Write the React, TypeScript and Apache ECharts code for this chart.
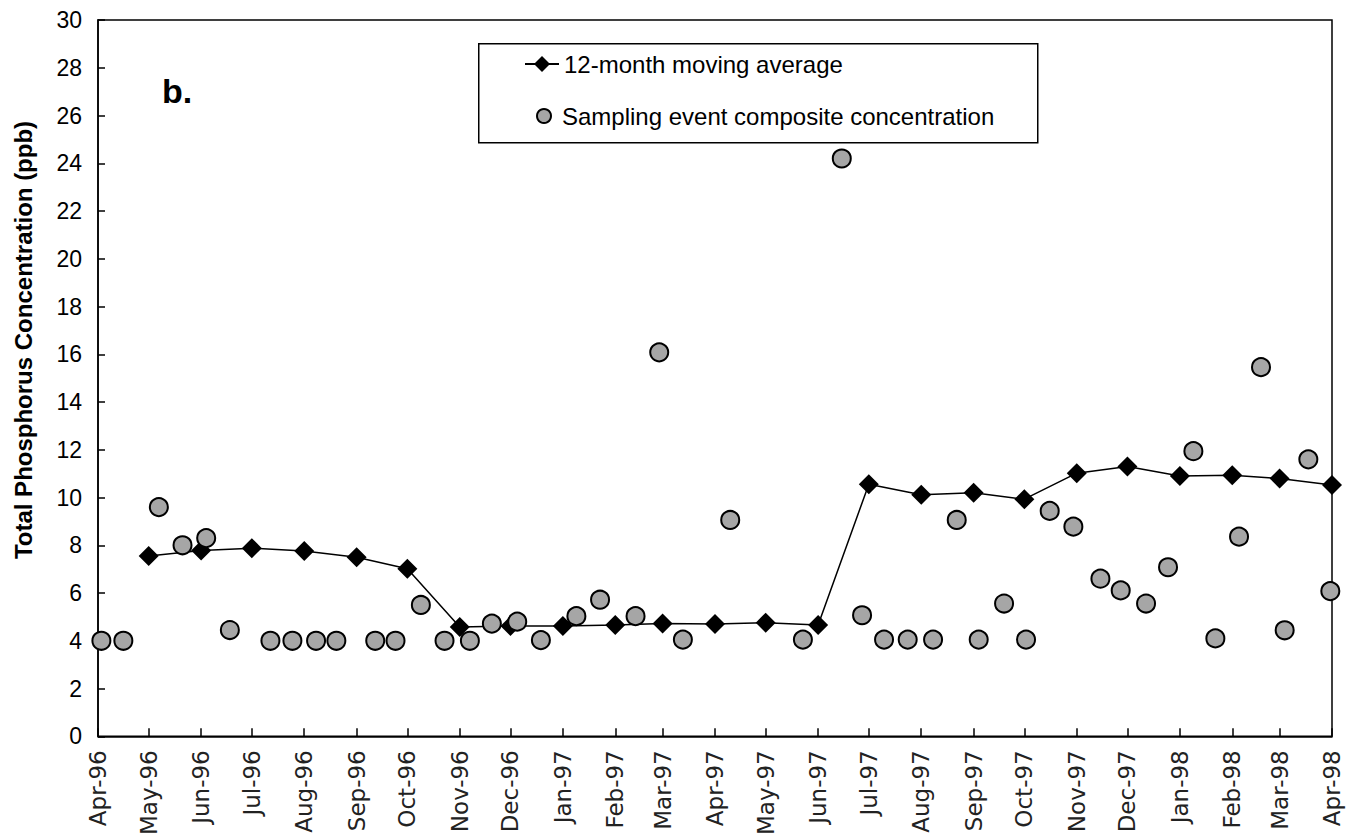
import React, { useEffect, useRef } from "react";
import * as echarts from "echarts";

const monthLabels = [
  "Apr-96", "May-96", "Jun-96", "Jul-96", "Aug-96", "Sep-96", "Oct-96", "Nov-96", "Dec-96",
  "Jan-97", "Feb-97", "Mar-97", "Apr-97", "May-97", "Jun-97", "Jul-97", "Aug-97", "Sep-97",
  "Oct-97", "Nov-97", "Dec-97", "Jan-98", "Feb-98", "Mar-98", "Apr-98",
];
const monthStarts = [
  "1996-04-01", "1996-05-01", "1996-06-01", "1996-07-01", "1996-08-01", "1996-09-01", "1996-10-01",
  "1996-11-01", "1996-12-01", "1997-01-01", "1997-02-01", "1997-03-01", "1997-04-01", "1997-05-01",
  "1997-06-01", "1997-07-01", "1997-08-01", "1997-09-01", "1997-10-01", "1997-11-01", "1997-12-01",
  "1998-01-01", "1998-02-01", "1998-03-01", "1998-04-01",
];

const avgDates = monthStarts.slice(1);
const avgValues = [
  7.55, 7.78, 7.88, 7.76, 7.5, 7.02, 4.58, 4.62, 4.62, 4.66, 4.72, 4.7, 4.76, 4.66,
  10.56, 10.12, 10.2, 9.93, 11.02, 11.3, 10.9, 10.93, 10.8, 10.52,
];

const sampleDates = [
  "1996-04-03", "1996-04-16", "1996-05-07", "1996-05-21", "1996-06-04", "1996-06-18", "1996-07-12",
  "1996-07-25", "1996-08-08", "1996-08-20", "1996-09-12", "1996-09-24", "1996-10-09", "1996-10-23",
  "1996-11-07", "1996-11-20", "1996-12-05", "1996-12-19", "1997-01-09", "1997-01-23", "1997-02-13",
  "1997-02-27", "1997-03-13", "1997-04-10", "1997-05-23", "1997-06-15", "1997-06-27", "1997-07-10",
  "1997-07-24", "1997-08-08", "1997-08-22", "1997-09-04", "1997-09-19", "1997-10-02", "1997-10-16",
  "1997-10-30", "1997-11-15", "1997-11-27", "1997-12-12", "1997-12-25", "1998-01-09", "1998-01-22",
  "1998-02-05", "1998-02-18", "1998-03-04", "1998-03-18", "1998-03-31",
];
const sampleValues = [
  4.0, 4.0, 9.6, 8.0, 8.3, 4.45, 4.0,
  4.0, 4.0, 4.0, 4.0, 4.0, 5.5, 4.0,
  4.0, 4.72, 4.8, 4.03, 5.03, 5.72, 5.03,
  16.08, 4.05, 9.06, 4.05, 24.2, 5.07, 4.05,
  4.05, 4.05, 9.06, 4.05, 5.56, 4.05, 9.44,
  8.78, 6.6, 6.11, 5.56, 7.08, 11.94, 4.1,
  8.36, 15.46, 4.44, 11.6, 6.08,
];

const yTitle = "Total Phosphorus Concentration (ppb)";
const panelLabel = "b.";
const avgName = "12-month moving average";
const sampleName = "Sampling event composite concentration";

// day number (UTC) of a YYYY-MM-DD date
function dayNum(s: string): number {
  const [y, m, d] = s.split("-").map(Number);
  return Date.UTC(y, m - 1, d) / 86400000;
}

export default function App() {
  const ref = useRef<HTMLDivElement>(null);
  useEffect(() => {
    if (!ref.current) return;
    const chart = echarts.init(ref.current, undefined, { renderer: "svg" });
    const tickDays = monthStarts.map(dayNum);
    const labelMap = new Map<number, string>();
    tickDays.forEach((t, i) => labelMap.set(t, monthLabels[i]));
    const black = "#000";
    chart.setOption({
      animation: false,
      backgroundColor: "#fff",
      grid: {
        left: 98, right: 23, top: 20, bottom: 98,
        show: true, borderColor: black, borderWidth: 1.5, backgroundColor: "transparent",
      },
      xAxis: {
        type: "value",
        min: tickDays[0],
        max: tickDays[tickDays.length - 1],
        axisLine: { show: true, onZero: false, lineStyle: { color: black, width: 1.5 } },
        axisTick: { show: true, inside: true, length: 8, customValues: tickDays, lineStyle: { color: black, width: 1.5 } },
        axisLabel: {
          customValues: tickDays,
          rotate: 90,
          margin: 14,
          formatter: (v: number) => labelMap.get(Math.round(v)) ?? "",
          fontFamily: "DejaVu Sans",
          fontSize: 23,
          color: "#222",
        },
        splitLine: { show: false },
      },
      yAxis: {
        type: "value",
        min: 0, max: 30, interval: 2,
        axisLine: { show: true, lineStyle: { color: black, width: 1.5 } },
        axisTick: { show: true, inside: true, length: 7, lineStyle: { color: black, width: 1.5 } },
        axisLabel: { fontFamily: "Liberation Sans, Arial", fontSize: 23, color: black, margin: 16 },
        splitLine: { show: false },
      },
      legend: [
        {
          data: [avgName], left: 524, top: 52, orient: "vertical", padding: 0,
          itemWidth: 34, itemHeight: 20,
          textStyle: { fontFamily: "Liberation Sans, Arial", fontSize: 24, color: black },
        },
        {
          data: [sampleName], left: 536, top: 104, orient: "vertical", padding: 0,
          itemWidth: 26, itemHeight: 14,
          textStyle: { fontFamily: "Liberation Sans, Arial", fontSize: 24, color: black },
        },
      ],
      graphic: [
        {
          type: "rect", left: 478, top: 43, z: 0,
          shape: { width: 559, height: 99 },
          style: { fill: "#fff", stroke: black, lineWidth: 1.5 },
        },
        {
          type: "text", x: 162, y: 91,
          style: {
            text: panelLabel, fontFamily: "Liberation Sans, Arial", fontWeight: "bold", fontSize: 34,
            fill: black, textVerticalAlign: "middle",
          },
        },
        {
          type: "text", x: 23, y: 340, rotation: Math.PI / 2,
          style: {
            text: yTitle, fontFamily: "Liberation Sans, Arial", fontWeight: "bold", fontSize: 24,
            fill: black, textAlign: "center", textVerticalAlign: "middle",
          },
        },
      ],
      series: [
        {
          type: "line",
          name: avgName,
          data: avgDates.map((d, i) => [dayNum(d), avgValues[i]]),
          symbol: "diamond",
          symbolSize: 20,
          lineStyle: { color: black, width: 1.5 },
          itemStyle: { color: black },
          clip: false,
          z: 2,
        },
        {
          type: "scatter",
          name: sampleName,
          data: sampleDates.map((d, i) => [dayNum(d), sampleValues[i]]),
          symbol: "circle",
          symbolSize: 18,
          itemStyle: { color: "#a6a6a6", borderColor: black, borderWidth: 2, opacity: 1 },
          clip: false,
          z: 3,
        },
      ],
    });
    return () => chart.dispose();
  }, []);
  return (
    <div
      ref={ref}
      style={{ position: "fixed", left: 0, top: 0, width: 1355, height: 838, background: "#fff" }}
    />
  );
}
